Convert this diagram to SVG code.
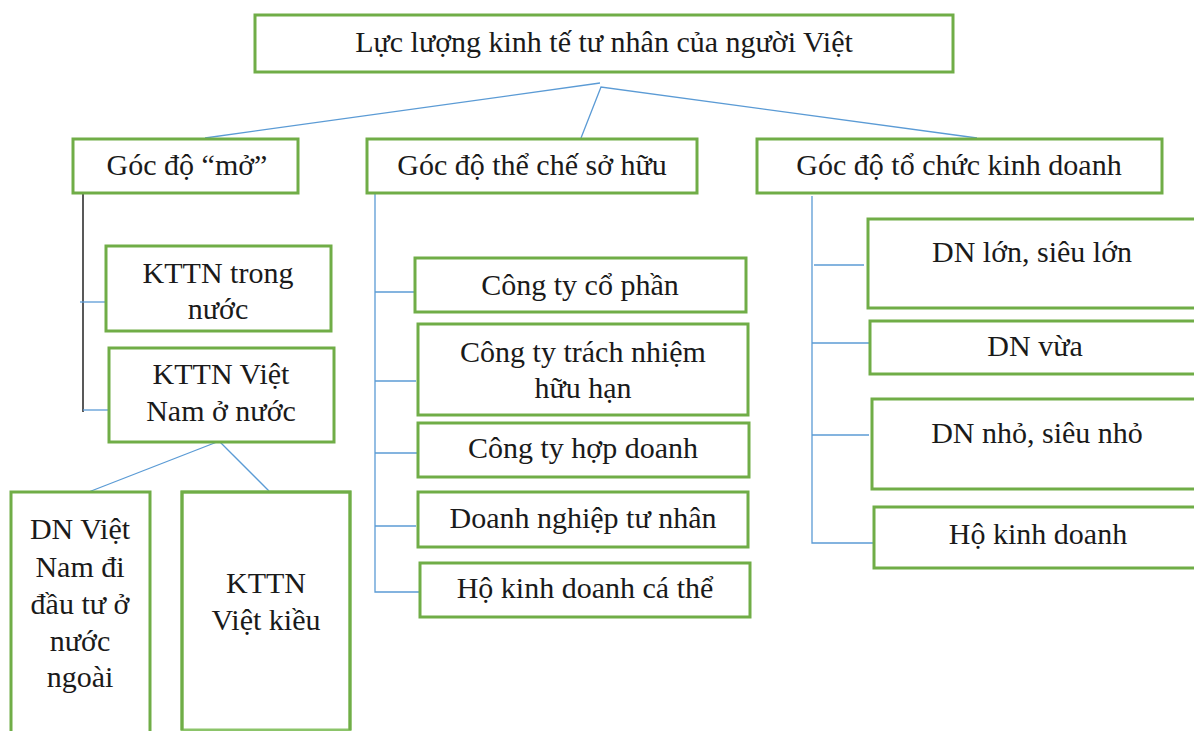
<svg xmlns="http://www.w3.org/2000/svg" width="1194" height="731" viewBox="0 0 1194 731" font-family="Liberation Serif, serif">
<style>
.box{fill:#fff;stroke:#70AD47;stroke-width:3}
.t{font-size:30px;fill:#1a1a1a;text-anchor:middle}
.c{stroke:#5B9BD5;stroke-width:1.3;fill:none}
.g{stroke:#595959;stroke-width:2;fill:none}
</style>
<rect width="1194" height="731" fill="#fff"/>
<g id="connectors">
<line class="c" x1="600" y1="83" x2="205" y2="138"/>
<polyline class="c" points="581,138 601,87 977,138"/>
<line class="g" x1="83" y1="194" x2="83" y2="412"/>
<line class="c" x1="80" y1="302" x2="105" y2="302"/>
<line class="c" x1="83" y1="410" x2="108" y2="410"/>
<line class="c" x1="217" y1="442" x2="86" y2="493"/>
<line class="c" x1="220" y1="442" x2="269" y2="491"/>
<polyline class="c" points="375,193 375,592 420,592"/>
<line class="c" x1="375" y1="292" x2="414" y2="292"/>
<line class="c" x1="375" y1="381" x2="416" y2="381"/>
<line class="c" x1="375" y1="453" x2="417" y2="453"/>
<line class="c" x1="375" y1="526" x2="416" y2="526"/>
<polyline class="c" points="812,196 812,543 874,543"/>
<line class="c" x1="814" y1="265" x2="864" y2="265"/>
<line class="c" x1="812" y1="343" x2="869" y2="343"/>
<line class="c" x1="812" y1="435" x2="869" y2="435"/>
</g>
<g id="root"><rect class="box" x="255" y="15" width="698" height="57"/><text class="t" x="604" y="52" font-family="Liberation Serif, serif">Lực lượng kinh tế tư nhân của người Việt</text></g>
<g id="mo"><rect class="box" x="73" y="139" width="225" height="54"/><text class="t" x="187" y="175" font-family="Liberation Serif, serif">Góc độ “mở”</text></g>
<g id="theche"><rect class="box" x="367" y="139" width="330" height="54"/><text class="t" x="532" y="175" font-family="Liberation Serif, serif">Góc độ thể chế sở hữu</text></g>
<g id="tochuc"><rect class="box" x="757" y="139" width="405" height="54"/><text class="t" x="959" y="175" font-family="Liberation Serif, serif">Góc độ tổ chức kinh doanh</text></g>
<g id="trongnuoc" font-family="Liberation Serif, serif"><rect class="box" x="106" y="246" width="225" height="85"/><text class="t" x="218" y="283">KTTN trong</text><text class="t" x="218" y="319">nước</text></g>
<g id="onuoc" font-family="Liberation Serif, serif"><rect class="box" x="109" y="348" width="225" height="94"/><text class="t" x="221" y="384">KTTN Việt</text><text class="t" x="221" y="421">Nam ở nước</text></g>
<g id="dnvn" font-family="Liberation Serif, serif"><rect class="box" x="11" y="492" width="139" height="250"/><text class="t" x="80" y="539">DN Việt</text><text class="t" x="80" y="577">Nam đi</text><text class="t" x="80" y="614">đầu tư ở</text><text class="t" x="80" y="651">nước</text><text class="t" x="80" y="687">ngoài</text></g>
<g id="vietkieu" font-family="Liberation Serif, serif"><rect class="box" x="182" y="492" width="168" height="238" style="stroke:#8CC46A"/><rect x="182" y="492" width="168" height="238" fill="none" stroke="#70AD47" stroke-width="3" stroke-dasharray="406 168"/><text class="t" x="266" y="593">KTTN</text><text class="t" x="266" y="630">Việt kiều</text></g>
<g id="cophan" font-family="Liberation Serif, serif"><rect class="box" x="415" y="258" width="331" height="54"/><text class="t" x="580" y="295">Công ty cổ phần</text></g>
<g id="tnhh" font-family="Liberation Serif, serif"><rect class="box" x="418" y="324" width="330" height="91"/><text class="t" x="583" y="362">Công ty trách nhiệm</text><text class="t" x="583" y="398">hữu hạn</text></g>
<g id="hopdoanh" font-family="Liberation Serif, serif"><rect class="box" x="418" y="423" width="331" height="54"/><text class="t" x="583" y="458">Công ty hợp doanh</text></g>
<g id="dntn" font-family="Liberation Serif, serif"><rect class="box" x="418" y="492" width="330" height="55"/><text class="t" x="583" y="528">Doanh nghiệp tư nhân</text></g>
<g id="hocathe" font-family="Liberation Serif, serif"><rect class="box" x="420" y="563" width="330" height="54"/><text class="t" x="585" y="598">Hộ kinh doanh cá thể</text></g>
<g id="dnlon" font-family="Liberation Serif, serif"><rect class="box" x="868" y="219" width="340" height="89"/><text class="t" x="1032" y="262">DN lớn, siêu lớn</text></g>
<g id="dnvua" font-family="Liberation Serif, serif"><rect class="box" x="870" y="321" width="340" height="53"/><text class="t" x="1035" y="356">DN vừa</text></g>
<g id="dnnho" font-family="Liberation Serif, serif"><rect class="box" x="872" y="399" width="340" height="90"/><text class="t" x="1037" y="443">DN nhỏ, siêu nhỏ</text></g>
<g id="hokd" font-family="Liberation Serif, serif"><rect class="box" x="874" y="507" width="340" height="61"/><text class="t" x="1038" y="544">Hộ kinh doanh</text></g>
</svg>
